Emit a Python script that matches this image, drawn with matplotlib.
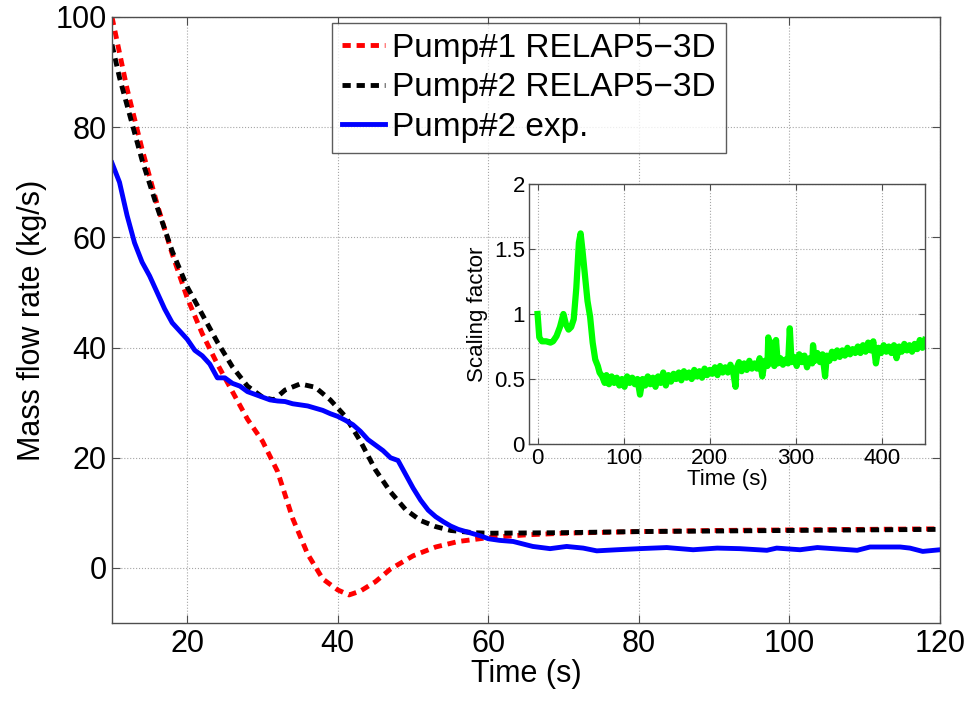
import matplotlib
matplotlib.use("Agg")
from matplotlib import pyplot as plt
from matplotlib.ticker import FuncFormatter

plt.rcParams['font.family'] = ['Liberation Sans', 'DejaVu Sans']

# Pump#1 RELAP5-3D (red dashed)
t_p1 = [10, 12, 14, 16, 18, 20, 22, 24, 26, 28, 30, 32, 34, 36, 38, 40, 41.5,
        43, 45, 47, 50, 53, 56, 60, 65, 70, 80, 90, 100, 110, 120]
m_p1 = [100, 87, 76, 66, 57, 49, 42.5, 37, 32, 27, 23, 17.5, 9, 2.5, -2, -4.0,
        -4.9, -4.2, -2.5, -0.2, 2.2, 3.8, 4.8, 5.5, 6.0, 6.3, 6.6, 6.8, 6.9, 7.0, 7.1]

# Pump#2 RELAP5-3D (black dashed)
t_p2 = [10, 11, 12, 14, 16, 18, 20, 22, 24, 26, 28, 30, 31.5, 33, 35, 37, 39,
        41, 43, 45, 47, 49, 51, 53, 55, 58, 60, 70, 80, 90, 100, 110, 120]
m_p2 = [95, 89, 84, 74, 65.5, 57.5, 51, 46, 41, 36.5, 33, 31, 30.5, 32.3, 33.4,
        32.8, 30.5, 27.5, 23, 17.8, 13.8, 10.6, 8.6, 7.5, 6.8, 6.4, 6.3, 6.4,
        6.6, 6.7, 6.8, 6.9, 7.0]

# Pump#2 experiment (blue)
t_exp = [10, 11, 12, 13, 14, 15, 16, 17, 18, 19, 20, 21, 22, 23, 24, 25, 26,
         27, 28, 29, 30, 31, 32, 33, 34, 35, 36, 37, 38, 39, 40, 41, 42, 43,
         44, 45, 46, 47, 48, 49, 50, 51, 52, 53, 54, 55, 56, 57, 58, 59, 60,
         61.5, 63.3, 65.9, 68.2, 70.4, 72.6, 74.4, 77.1, 80.1, 83.7, 87.2,
         90.4, 93.4, 97, 98.3, 101.4, 103.7, 105.8, 109, 110.7, 114.7, 116,
         117.7, 120]
m_exp = [73.5, 70, 64, 59, 55.5, 53, 50, 47, 44.5, 43, 41.5, 39.5, 38.5, 37,
         34.5, 34.5, 33.5, 33, 32, 31.5, 31, 30.5, 30.3, 30.2, 29.8, 29.6, 29.4,
         29.0, 28.6, 28.0, 27.5, 26.8, 26.0, 24.8, 23.3, 22.3, 21.3, 20.0, 19.5,
         17.0, 14.5, 12.3, 10.5, 9.3, 8.4, 7.6, 7.0, 6.6, 6.2, 5.8, 5.3,
         5.0, 4.8, 3.9, 3.5, 3.9, 3.6, 3.1, 3.3, 3.5, 3.7, 3.3,
         3.6, 3.5, 3.2, 3.6, 3.3, 3.7, 3.5, 3.2, 3.8, 3.8, 3.6,
         3.0, 3.3]

# inset: scaling factor
t_sf = [0, 2, 5, 10, 15, 18, 22, 26, 30, 33, 36, 39, 42, 45, 48, 50, 52, 55,
        58, 61, 64, 67, 70, 72, 75, 78, 80, 83, 86, 89, 92, 95, 98, 101, 104,
        107, 110, 113, 116, 119, 122, 125, 128, 131, 134, 137, 140, 143, 146,
        149, 152, 155, 158, 161, 164, 167, 170, 173, 176, 179, 182, 185, 188,
        191, 194, 197, 200, 203, 206, 209, 212, 215, 218, 221, 224, 227, 230,
        231, 234, 237, 240, 243, 246, 249, 252, 255, 258, 261, 264, 267, 268,
        270, 273, 275, 277, 279, 282, 285, 288, 291, 293, 295, 298, 301, 304,
        307, 310, 313, 316, 319, 320, 322, 325, 328, 331, 334, 336, 339, 342,
        345, 348, 351, 354, 357, 360, 363, 366, 369, 372, 375, 378, 381, 384,
        387, 390, 393, 396, 399, 402, 405, 408, 411, 414, 417, 420, 423, 426,
        429, 432, 435, 438, 441, 444, 447, 450]
sf = [1.00, 0.82, 0.79, 0.79, 0.78, 0.79, 0.83, 0.90, 1.00, 0.92, 0.88, 0.90,
      0.96, 1.20, 1.55, 1.62, 1.50, 1.30, 1.10, 0.98, 0.78, 0.65, 0.60, 0.55,
      0.52, 0.47, 0.53, 0.46, 0.52, 0.47, 0.51, 0.45, 0.50, 0.44, 0.52, 0.47,
      0.51, 0.46, 0.50, 0.38, 0.50, 0.45, 0.52, 0.46, 0.51, 0.44, 0.52, 0.47,
      0.55, 0.45, 0.53, 0.48, 0.54, 0.50, 0.55, 0.49, 0.56, 0.51, 0.55, 0.50,
      0.57, 0.52, 0.56, 0.51, 0.58, 0.53, 0.57, 0.54, 0.59, 0.53, 0.60, 0.55,
      0.59, 0.55, 0.61, 0.56, 0.44, 0.58, 0.63, 0.56, 0.62, 0.57, 0.64, 0.58,
      0.62, 0.58, 0.66, 0.52, 0.64, 0.60, 0.82, 0.62, 0.78, 0.60, 0.80, 0.62,
      0.66, 0.61, 0.65, 0.62, 0.89, 0.63, 0.67, 0.60, 0.69, 0.63, 0.68, 0.59,
      0.66, 0.62, 0.76, 0.64, 0.70, 0.63, 0.69, 0.52, 0.68, 0.64, 0.71, 0.66,
      0.72, 0.67, 0.72, 0.68, 0.74, 0.69, 0.73, 0.70, 0.75, 0.70, 0.76, 0.71,
      0.78, 0.72, 0.79, 0.62, 0.74, 0.70, 0.76, 0.71, 0.75, 0.70, 0.76, 0.66,
      0.75, 0.71, 0.77, 0.72, 0.76, 0.71, 0.77, 0.73, 0.80, 0.74, 0.80]

main_xticks = [20, 40, 60, 80, 100, 120]
main_yticks = [0, 20, 40, 60, 80, 100]
inset_xticks = [0, 100, 200, 300, 400]
inset_yticks = [0, 0.5, 1, 1.5, 2]

spine_col = '0.3'
grid_kw = dict(color='0.65', linestyle=':', linewidth=0.8)


def style_axes(ax, size):
    # matlab look: ticks inside on all four sides, dotted grid
    ax.tick_params(direction='in', top=True, right=True, labelsize=size,
                   length=6, width=0.8, color=spine_col, pad=4)
    for s in ax.spines.values():
        s.set_color(spine_col)
        s.set_linewidth(1.0)
    ax.grid(True, **grid_kw)
    ax.set_axisbelow(True)


fig = plt.figure(figsize=(9.72, 7.02), dpi=100)

# main axes
ax = fig.add_axes([0.1152, 0.1125, 0.8519, 0.8633])
ax.plot(t_p1, m_p1, color='red', lw=3.5, dashes=(1.7, 1.2), label='Pump#1 RELAP5\u22123D')
ax.plot(t_p2, m_p2, color='black', lw=3.5, dashes=(1.7, 1.2), label='Pump#2 RELAP5\u22123D')
ax.plot(t_exp, m_exp, color='blue', lw=3.5, label='Pump#2 exp.')
ax.set_xlim(10, 120)
ax.set_ylim(-10, 100)
ax.set_xticks(main_xticks)
ax.set_yticks(main_yticks)
style_axes(ax, 22)
ax.set_xlabel('Time (s)', fontsize=22, labelpad=0)
ax.set_ylabel('Mass flow rate (kg/s)', fontsize=22, labelpad=6)

leg = ax.legend(loc='upper left', bbox_to_anchor=(0.3416, 0.9672),
                bbox_transform=fig.transFigure, fontsize=24, frameon=True,
                fancybox=False, handlelength=1.3, handletextpad=0.2,
                borderpad=0.3, labelspacing=0.25, borderaxespad=0)
leg.get_frame().set_edgecolor('0.2')
leg.get_frame().set_linewidth(1.0)

# inset axes
ax2 = fig.add_axes([0.5442, 0.3675, 0.4074, 0.3704])
ax2.plot(t_sf, sf, color=(0, 1, 0), lw=4.5)
ax2.set_xlim(-10, 450)
ax2.set_ylim(0, 2)
ax2.set_xticks(inset_xticks)
ax2.set_yticks(inset_yticks)
ax2.yaxis.set_major_formatter(FuncFormatter(lambda v, p: '%g' % v))
style_axes(ax2, 16)
ax2.tick_params(length=4, pad=3)
ax2.set_xlabel('Time (s)', fontsize=16, labelpad=0)
ax2.set_ylabel('Scaling factor', fontsize=16, labelpad=4)

fig.savefig('out.png', dpi=100)
